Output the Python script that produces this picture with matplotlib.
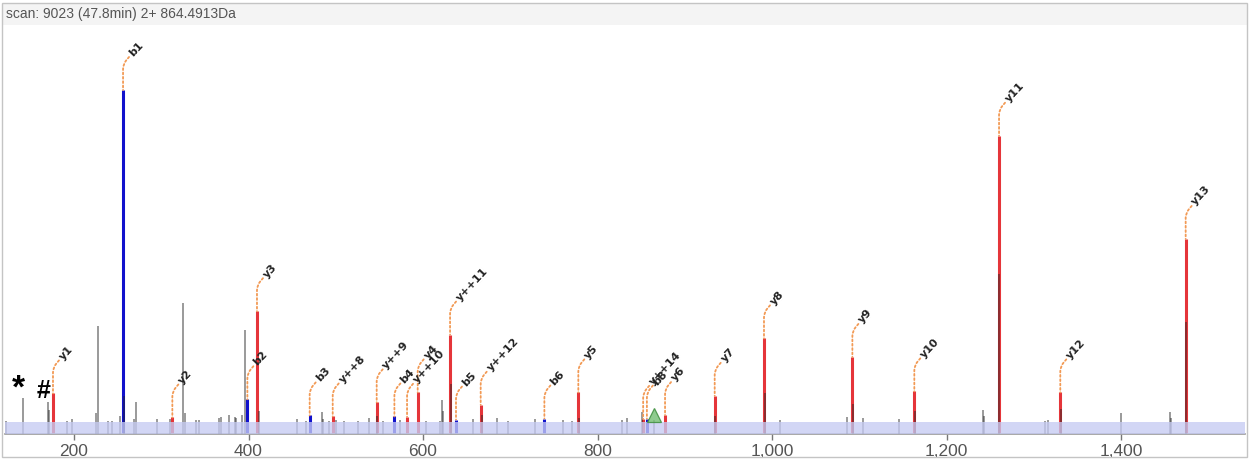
import matplotlib
matplotlib.use("Agg")
import matplotlib.pyplot as plt
from matplotlib.patches import Rectangle
from matplotlib.ticker import FuncFormatter

# ---------------- data ----------------
title = "scan: 9023 (47.8min) 2+ 864.4913Da"

ion_labels = ["y1", "b1", "y2", "b2", "y3", "b3", "y++8", "y++9", "b4", "y++10",
              "y4", "y++11", "b5", "y++12", "b6", "y5", "y++14", "b8", "y6", "y7",
              "y8", "y9", "y10", "y11", "y12", "y13"]
ion_mz = [175.9, 256.2, 312.7, 398.7, 409.7, 470.1, 496.5, 546.9, 567.2, 581.7,
          593.9, 631.0, 637.8, 666.1, 739.1, 778.0, 852.3, 856.6, 877.4, 934.3,
          990.8, 1092.1, 1163.1, 1260.2, 1330.4, 1474.1]
ion_int = [11.8, 100.0, 4.8, 10.1, 35.7, 5.4, 5.1, 9.2, 5.1, 5.0,
           12.1, 28.9, 4.2, 8.5, 4.5, 12.1, 4.4, 4.5, 5.5, 11.1,
           27.8, 22.4, 12.4, 86.7, 12.1, 56.7]

peak_mz = [122.1, 141.2, 169.9, 171.7, 191.6, 198.1, 225.2, 227.5, 238.6, 243.2,
           252.7, 257.3, 268.4, 270.7, 295.5, 310.0, 324.6, 327.2, 339.5, 343.3,
           366.2, 368.5, 378.0, 384.2, 385.3, 392.6, 396.3, 411.7, 455.9, 465.9,
           483.9, 485.0, 492.6, 500.3, 509.8, 525.2, 538.1, 547.6, 554.5, 573.3,
           603.4, 619.5, 622.1, 623.3, 631.7, 657.7, 668.0, 684.5, 697.8, 728.7,
           760.8, 770.4, 779.1, 827.7, 833.5, 851.3, 864.8, 934.7, 992.0, 1009.2,
           1085.6, 1092.5, 1103.9, 1145.9, 1163.5, 1242.2, 1243.4, 1260.5, 1312.9, 1316.0,
           1331.2, 1400.0, 1456.2, 1457.3, 1474.1]
peak_int = [3.8, 10.5, 9.3, 7.0, 3.8, 4.4, 6.1, 31.5, 3.8, 3.8,
            5.2, 11.1, 4.4, 9.3, 4.4, 4.4, 38.2, 6.1, 4.1, 4.1,
            4.7, 5.0, 5.5, 5.0, 4.7, 5.5, 30.3, 6.7, 4.4, 3.8,
            6.4, 4.4, 3.8, 4.1, 3.8, 3.8, 4.7, 5.2, 3.8, 4.1,
            3.8, 3.8, 9.9, 6.7, 14.6, 4.4, 5.5, 4.7, 3.8, 4.4,
            4.1, 3.8, 4.7, 4.1, 4.7, 6.4, 4.1, 5.2, 12.0, 4.1,
            5.0, 8.7, 4.7, 4.4, 6.7, 7.0, 5.2, 46.4, 3.8, 4.1,
            7.3, 6.1, 6.4, 4.7, 32.7]

precursor_mz = 864.49
marker_texts = ["*", "#"]
marker_mz = [135.8, 165.0]
marker_int = [10.6, 10.6]

xticks = [200, 400, 600, 800, 1000, 1200, 1400]
x_range = (120.9, 1542.1)
y_range = (0, 118.6)
band_top = 3.5

# ---------------- style ----------------
RED = "#e5353a"
BLUE = "#1111cc"
GREY = "#222222"
ORANGE = "#f29a55"
marker_sizes = {"*": 24, "#": 18}

W, H = 1250, 462
fig = plt.figure(figsize=(W / 100, H / 100), dpi=100)

# chart frame and header
fig.patches.append(Rectangle((2 / W, (H - 25) / H), 1245 / W, 22 / H,
                             transform=fig.transFigure, facecolor="#f4f4f4",
                             edgecolor="none", zorder=0))
fig.patches.append(Rectangle((2 / W, (H - 457) / H), 1245 / W, 454 / H,
                             transform=fig.transFigure, facecolor="none",
                             edgecolor="#c4c4c4", lw=1.0, zorder=1))
fig.text(6 / W, 1 - 14 / H, title, ha="left", va="center", fontsize=10,
         color="#555555", family="Liberation Sans")

ax = fig.add_axes([5 / W, (H - 434) / H, 1240 / W, 408 / H])
ax.set_facecolor("none")
ax.set_xlim(*x_range)
ax.set_ylim(*y_range)
for s in ("left", "top", "right"):
    ax.spines[s].set_visible(False)
ax.spines["bottom"].set_color("#9a9a9a")
ax.spines["bottom"].set_linewidth(1.2)
ax.set_yticks([])
ax.set_xticks(xticks)
ax.xaxis.set_major_formatter(FuncFormatter(lambda v, p: f"{int(v):,}"))
ax.tick_params(axis="x", length=4, width=1, color="#777777", labelsize=12.5,
               labelcolor="#555555", pad=3)
for t in ax.get_xticklabels():
    t.set_family("Liberation Sans")

# annotated peaks
ion_colors = [BLUE if l.startswith("b") else RED for l in ion_labels]
ax.vlines(ion_mz, 0, ion_int, colors=ion_colors, lw=2.2, zorder=2)
# unannotated / overlapping peaks
ax.vlines(peak_mz, 0, peak_int, colors=GREY, alpha=0.58, lw=1.1, zorder=3)

# low-intensity band
ax.axhspan(0, band_top, color="#c6cbf3", alpha=0.78, lw=0, zorder=4)

# precursor marker
ax.plot([precursor_mz], [band_top + 1.9], marker="^", ms=9.5,
        markerfacecolor="#7cc27c", markeredgecolor="#3f8f3f", mew=0.9,
        alpha=0.85, ls="none", zorder=5)

# labels with dotted leaders
for lab, mz, it in zip(ion_labels, ion_mz, ion_int):
    ax.annotate("", xy=(mz, it), xytext=(6, 33), textcoords="offset pixels",
                arrowprops=dict(arrowstyle="-", color=ORANGE, lw=1.3,
                                linestyle=(0, (1, 1.4)), shrinkA=0, shrinkB=0,
                                connectionstyle="angle,angleA=50,angleB=90,rad=5"),
                zorder=6)
    ax.annotate(lab, xy=(mz, it), xytext=(8, 35), textcoords="offset pixels",
                rotation=47, rotation_mode="anchor", ha="left", va="center",
                fontsize=8, fontweight="bold", color="#222222",
                family="DejaVu Sans", zorder=7)

for t, mz, it in zip(marker_texts, marker_mz, marker_int):
    ax.text(mz, it, t, ha="center", va="baseline", fontsize=marker_sizes[t],
            fontweight="bold", color="black", family="Liberation Sans", zorder=7)

fig.savefig("out.png", dpi=100)
